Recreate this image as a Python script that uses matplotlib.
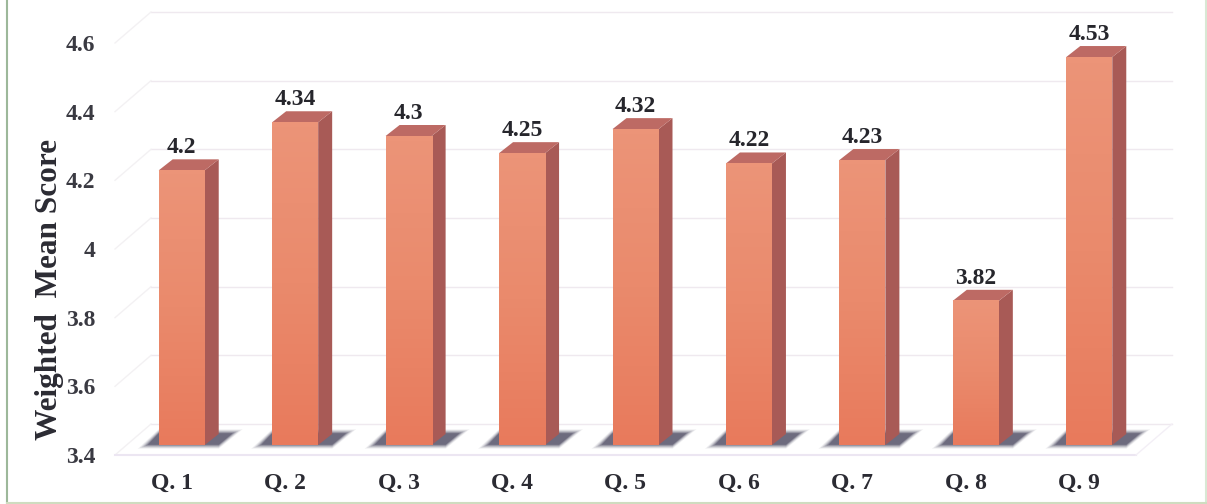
import numpy as np
from matplotlib import pyplot as plt
from matplotlib.colors import LinearSegmentedColormap
from matplotlib.lines import Line2D
from matplotlib.patches import Polygon
from matplotlib.transforms import Affine2D

questions = ['Q. 1', 'Q. 2', 'Q. 3', 'Q. 4', 'Q. 5', 'Q. 6', 'Q. 7', 'Q. 8', 'Q. 9']
scores = [4.2, 4.34, 4.3, 4.25, 4.32, 4.22, 4.23, 3.82, 4.53]
score_labels = ['4.2', '4.34', '4.3', '4.25', '4.32', '4.22', '4.23', '3.82', '4.53']
y_ticks = [3.4, 3.6, 3.8, 4.0, 4.2, 4.4, 4.6]
y_tick_labels = ['3.4', '3.6', '3.8', '4', '4.2', '4.4', '4.6']

W, H = 1207, 504
plt.rcParams['font.family'] = ['Liberation Serif', 'DejaVu Serif']
plt.rcParams['font.weight'] = 'bold'

fig = plt.figure(figsize=(W / 100, H / 100), dpi=100, facecolor='white')
# axes = front plane of the fake 3d box (pixel box)
ax = fig.add_axes([115 / W, 1 - 455 / H, (1136 - 115) / W, (455 - 43) / H])
ax.set_xlim(-0.5, 8.5)
ax.set_ylim(3.4, 4.6)
ax.set_facecolor('none')
for s in ax.spines.values():
    s.set_visible(False)

px_x = 9 / (1136 - 115)   # data units per pixel, x
px_y = 1.2 / 412          # data units per pixel, y
wall_dx, wall_dy = 36 * px_x, 31 * px_y
bar_w = 46 * px_x
bar_off_x, bar_off_y = 10 * px_x, 10 * px_y
side_dx, side_dy = 14 * px_x, 11 * px_y

# wall lines and floor
x0, x1 = -0.5, 8.5
for t in y_ticks:
    ax.plot([x0 + wall_dx, x1 + wall_dx], [t + wall_dy, t + wall_dy], color='#efe9ef', lw=1, zorder=1, clip_on=False)
    ax.plot([x0, x0 + wall_dx], [t, t + wall_dy], color='#f3f1f3', lw=1, zorder=1, clip_on=False)
ax.plot([x0, x1], [3.4, 3.4], color='#ece6f2', lw=1.5, zorder=1, clip_on=False)
ax.plot([x1, x1 + wall_dx], [3.4, 3.4 + wall_dy], color='#f3eff6', lw=1, zorder=1, clip_on=False)

grad = LinearSegmentedColormap.from_list('bar', ['#ec9478', '#ea8a6c', '#e87a5c'])
offset = Affine2D().translate(bar_off_x, bar_off_y) + ax.transData

for i, v in enumerate(scores):
    left = i - bar_w / 2 + bar_off_x
    right = i + bar_w / 2 + bar_off_x
    base = 3.4 + bar_off_y

    # blurred floor shadow, darkest close to the bar
    for k, a in zip([7, 5, 3, 1, -1, -3], [0.07, 0.10, 0.15, 0.22, 0.3, 0.42]):
        ax.add_patch(Polygon([
            (left - (14 + k) * px_x, base - (1 + k * 0.4) * px_y),
            (right + side_dx, base - (1 + k * 0.4) * px_y),
            (right + (31 + k) * px_x, base + (13 + k * 0.4) * px_y),
            (left, base + (13 + k * 0.4) * px_y)],
            closed=True, fc='#44425a', ec='none', alpha=a, zorder=2, clip_on=False))

    ax.bar(i, v - 3.4, width=bar_w, bottom=3.4, color='#ea8a6c', transform=offset, zorder=3, clip_on=False)
    ax.imshow(np.linspace(0, 1, 64).reshape(-1, 1), cmap=grad, aspect='auto', origin='upper',
              extent=[i - bar_w / 2, i + bar_w / 2, 3.4, v], transform=offset, zorder=3.1, clip_on=False)

    top = v + bar_off_y
    # side face
    ax.add_patch(Polygon([(right, base), (right + side_dx, base + side_dy),
                          (right + side_dx, top + side_dy), (right, top)],
                         closed=True, fc='#a85a56', ec='none', zorder=3, clip_on=False))
    # top face
    ax.add_patch(Polygon([(left, top), (left + side_dx, top + side_dy),
                          (right + side_dx, top + side_dy), (right, top)],
                         closed=True, fc='#bd6a64', ec='none', zorder=3, clip_on=False))
    ax.text(i + bar_off_x, top + side_dy + 1 * px_y, score_labels[i], ha='center', va='bottom',
            fontsize=17, fontweight='bold', color='#26262c', zorder=5, clip_on=False)

ax.set_xlim(-0.5, 8.5)
ax.set_ylim(3.4, 4.6)
ax.set_xticks(range(len(questions)))
ax.set_xticklabels(questions, fontsize=17, fontweight='bold', color='#2b2b33')
ax.set_yticks(y_ticks)
ax.set_yticklabels(y_tick_labels, fontsize=17, fontweight='bold', color='#3a3a42')
ax.tick_params(axis='x', length=0, pad=13)
ax.tick_params(axis='y', length=0, pad=14)

fig.text(50 / W, 1 - 290 / H, 'Weighted  Mean Score', rotation=90, ha='center', va='center',
         fontsize=22.5, fontweight='bold', color='#2b2b33')

# scan border
fig.add_artist(Line2D([7 / W, 7 / W], [0, 1], color='#9db89a', lw=1.5))
fig.add_artist(Line2D([1205.5 / W, 1205.5 / W], [0, 1], color='#d8e8d4', lw=1.5))
fig.add_artist(Line2D([7 / W, 1], [1.5 / H, 1.5 / H], color='#cfdcc0', lw=1.5))

plt.savefig('out.png', dpi=100)
